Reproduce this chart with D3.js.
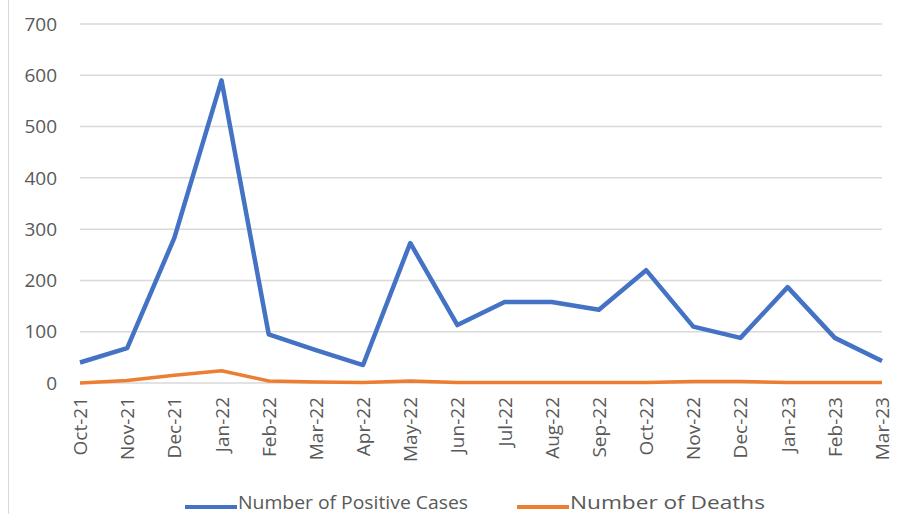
<!DOCTYPE html>
<html><head><meta charset="utf-8">
<script src="https://cdn.jsdelivr.net/npm/d3@7"></script>
<style>body{margin:0;background:#fff}svg{display:block}text{font-family:"Open Sans",sans-serif;fill:#595959}</style>
</head><body><svg id="c" width="898" height="514"></svg>
<script>
const months = ["Oct-21","Nov-21","Dec-21","Jan-22","Feb-22","Mar-22","Apr-22","May-22","Jun-22","Jul-22","Aug-22","Sep-22","Oct-22","Nov-22","Dec-22","Jan-23","Feb-23","Mar-23"];
const positiveCases = [40,68,283,590,95,64,35,273,113,158,158,143,220,110,88,187,88,43];
const deaths = [0,5,15,24,4,2,1,4,1,1,1,1,1,3,3,1,1,1];
const yTicks = [0,100,200,300,400,500,600,700];
const seriesNames = ["Number of Positive Cases","Number of Deaths"];
const colors = ["#4472C4","#ED7D31"];

const svg = d3.select("#c");
const x = d3.scalePoint().domain(months).range([80,882]);
const y = d3.scaleLinear().domain([0,700]).range([383,24]);

svg.append("line").attr("x1",8.5).attr("x2",8.5).attr("y1",0).attr("y2",514).attr("stroke","#d9d9d9");

svg.append("g").selectAll("line").data(yTicks).join("line")
  .attr("x1",80).attr("x2",882).attr("y1",d=>y(d)).attr("y2",d=>y(d))
  .attr("stroke","#d9d9d9").attr("stroke-width",1.5);

svg.append("g").selectAll("text").data(yTicks).join("text")
  .attr("x",57).attr("y",d=>y(d)).attr("dy","0.35em").attr("text-anchor","end")
  .attr("font-size",19).text(d=>d);

svg.append("g").selectAll("text").data(months).join("text")
  .attr("transform",d=>`translate(${x(d)+7},397) rotate(-90)`)
  .attr("text-anchor","end").attr("font-size",19).text(d=>d);

const line = d3.line().x((d,i)=>x(months[i])).y(d=>y(d)).curve(d3.curveLinear);
svg.append("path").datum(deaths).attr("d",line).attr("fill","none")
  .attr("stroke",colors[1]).attr("stroke-width",3.5).attr("stroke-linejoin","round");
svg.append("path").datum(positiveCases).attr("d",line).attr("fill","none")
  .attr("stroke",colors[0]).attr("stroke-width",4.5).attr("stroke-linejoin","round");

const legX = [185,517];
const leg = svg.append("g").selectAll("g").data(seriesNames).join("g")
  .attr("transform",(d,i)=>`translate(${legX[i]},507)`);
leg.append("line").attr("x1",0).attr("x2",52).attr("stroke",(d,i)=>colors[i]).attr("stroke-width",4);
leg.append("text").attr("x",53).attr("y",2).attr("font-size",18)
  .attr("textLength",(d,i)=>i===0?230:195).attr("lengthAdjust","spacingAndGlyphs").text(d=>d);
</script></body></html>
